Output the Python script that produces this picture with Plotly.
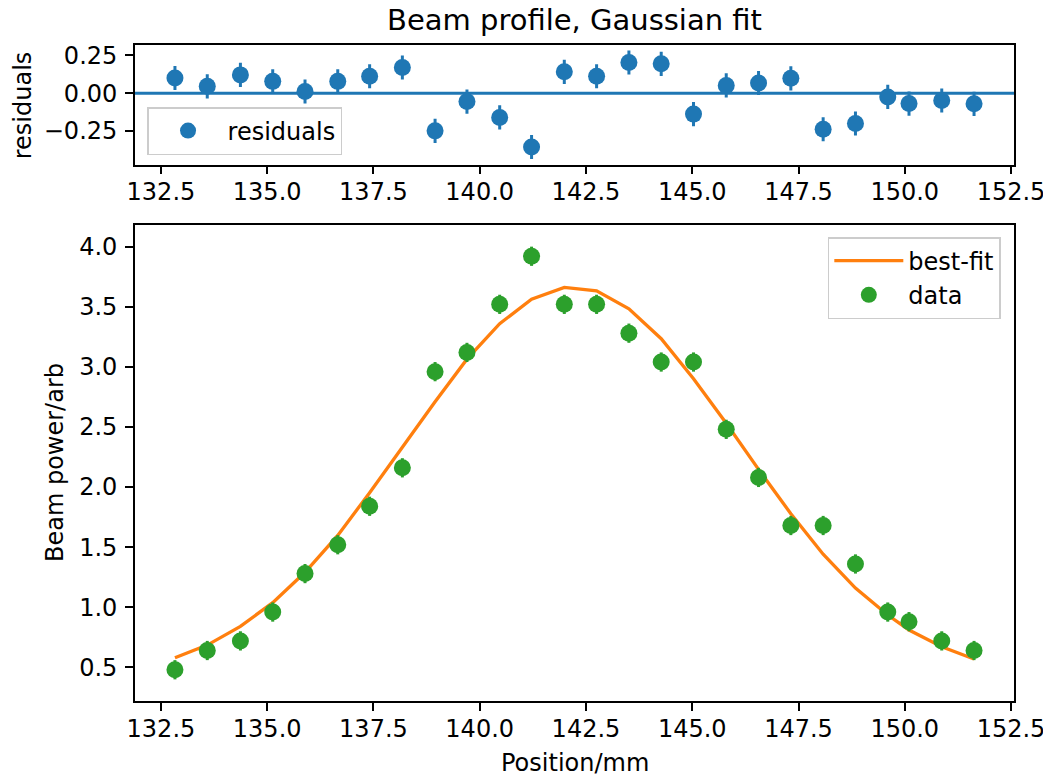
import plotly.graph_objects as go

position = [132.83, 133.59, 134.37, 135.13, 135.89, 136.66, 137.41, 138.18, 138.95,
            139.70, 140.47, 141.22, 141.99, 142.75, 143.51, 144.27, 145.03, 145.80,
            146.56, 147.32, 148.08, 148.84, 149.60, 150.10, 150.87, 151.63]
power = [0.48, 0.64, 0.72, 0.96, 1.28, 1.52, 1.84, 2.16, 2.96, 3.12, 3.52, 3.92, 3.52,
         3.52, 3.28, 3.04, 3.04, 2.48, 2.08, 1.68, 1.68, 1.36, 0.96, 0.88, 0.72, 0.64]
power_err = [0.08] * len(power)
best_fit = [0.580, 0.685, 0.841, 1.038, 1.291, 1.598, 1.952, 2.330, 2.710, 3.064,
            3.359, 3.563, 3.661, 3.632, 3.483, 3.234, 2.901, 2.531, 2.147, 1.778,
            1.441, 1.159, 0.935, 0.811, 0.671, 0.569]
residuals = [0.100, 0.045, 0.121, 0.078, 0.011, 0.078, 0.112, 0.170, -0.250, -0.056,
             -0.161, -0.357, 0.141, 0.112, 0.203, 0.194, -0.139, 0.051, 0.067, 0.098,
             -0.239, -0.201, -0.025, -0.069, -0.049, -0.071]

BLUE = "#1f77b4"
ORANGE = "#ff7f0e"
GREEN = "#2ca02c"
FONT = "DejaVu Sans"
FS = 24

fig = go.Figure()

# top panel: residuals
fig.add_trace(go.Scatter(
    x=position, y=residuals, mode="markers", name="residuals",
    marker=dict(color=BLUE, size=17),
    error_y=dict(type="data", array=power_err, color=BLUE, thickness=3, width=0),
    xaxis="x", yaxis="y", legend="legend",
))

# bottom panel: fit + data
fig.add_trace(go.Scatter(
    x=position, y=best_fit, mode="lines", name="best-fit",
    line=dict(color=ORANGE, width=3.3),
    xaxis="x2", yaxis="y2", legend="legend2",
))
fig.add_trace(go.Scatter(
    x=position, y=power, mode="markers", name="data",
    marker=dict(color=GREEN, size=17),
    error_y=dict(type="data", array=power_err, color=GREEN, thickness=3, width=0),
    xaxis="x2", yaxis="y2", legend="legend2",
))

axis_style = dict(
    showline=True, mirror=True, linecolor="black", linewidth=1.8,
    ticks="outside", ticklen=8, tickwidth=1.8, tickcolor="black",
    showgrid=False, zeroline=False, automargin=False,
    tickfont=dict(family=FONT, size=FS, color="black"),
)

# the page body has an 8px margin, so the figure is a bit smaller than the window
fig.update_layout(
    width=1043, height=768,
    margin=dict(l=127, r=37, t=37, b=75),
    paper_bgcolor="white", plot_bgcolor="white",
    font=dict(family=FONT, size=FS, color="black"),
    showlegend=True,
    xaxis=dict(domain=[0, 1], anchor="y", range=[131.89, 152.57],
               tick0=132.5, dtick=2.5, tickformat=".1f", ticklabelstandoff=-3,
               **axis_style),
    yaxis=dict(domain=[0.8178, 1], anchor="x", range=[-0.473, 0.319],
               tickvals=[-0.25, 0, 0.25], tickformat=".2f", ticklabelstandoff=3,
               **axis_style),
    xaxis2=dict(domain=[0, 1], anchor="y2", range=[131.89, 152.57],
                tick0=132.5, dtick=2.5, tickformat=".1f", ticklabelstandoff=-3,
                **axis_style),
    yaxis2=dict(domain=[0, 0.7256], anchor="x2", range=[0.22, 4.18],
                tick0=0.5, dtick=0.5, tickformat=".1f", ticklabelstandoff=3,
                **axis_style),
    legend=dict(x=0.0137, y=0.8323, xanchor="left", yanchor="bottom",
                bgcolor="rgba(255,255,255,0.8)", bordercolor="#cccccc",
                borderwidth=1.5, font=dict(family=FONT, size=FS),
                itemwidth=69),
    legend2=dict(x=0.985, y=0.7073, xanchor="right", yanchor="top",
                 bgcolor="rgba(255,255,255,0.8)", bordercolor="#cccccc",
                 borderwidth=1.5, font=dict(family=FONT, size=FS),
                 itemwidth=69, traceorder="normal"),
    shapes=[dict(type="line", xref="x domain", yref="y", x0=0, x1=1, y0=0, y1=0,
                 line=dict(color=BLUE, width=3), layer="below")],
)

# title and axis labels as annotations for exact placement
label_font = dict(family=FONT, size=FS, color="black")
fig.add_annotation(text="Beam profile, Gaussian fit", xref="paper", yref="paper",
                   x=0.5, y=1.0381, xanchor="center", yanchor="middle",
                   showarrow=False, font=dict(family=FONT, size=29, color="black"))
fig.add_annotation(text="Position/mm", xref="paper", yref="paper",
                   x=0.5, y=-0.094, xanchor="center", yanchor="middle",
                   showarrow=False, font=label_font)
fig.add_annotation(text="Beam power/arb", xref="paper", yref="y2 domain",
                   x=-0.091, y=0.5, xanchor="center", yanchor="middle",
                   textangle=-90, showarrow=False, font=label_font)
fig.add_annotation(text="residuals", xref="paper", yref="y domain",
                   x=-0.128, y=0.5, xanchor="center", yanchor="middle",
                   textangle=-90, showarrow=False, font=label_font)

fig.write_html("out.html")
